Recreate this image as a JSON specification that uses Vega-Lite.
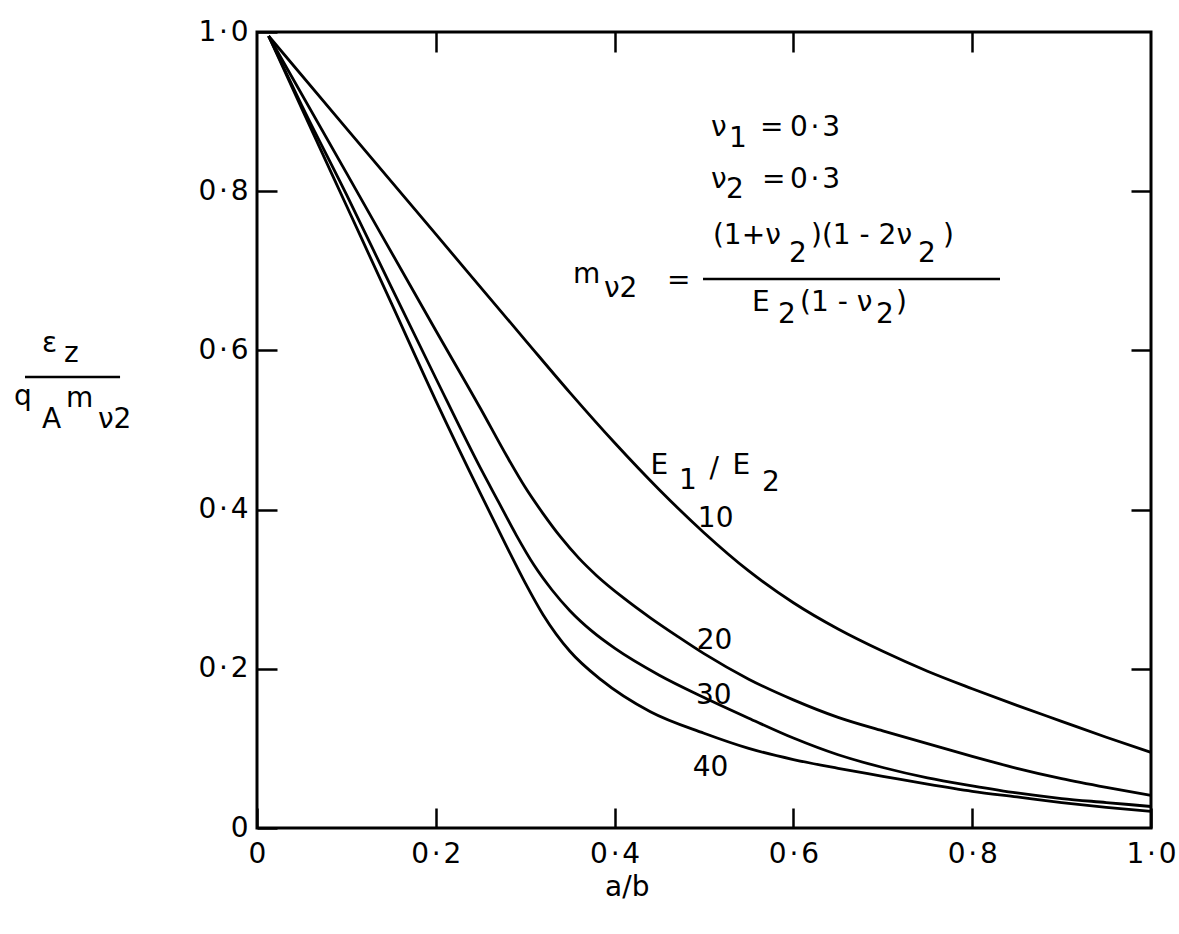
{
  "$schema": "https://vega.github.io/schema/vega-lite/v6.json",
  "width": 894,
  "height": 796,
  "autosize": {"type": "none"},
  "padding": {"left": 257, "top": 32, "right": 28, "bottom": 106},
  "background": "white",
  "config": {
    "view": {"stroke": "black", "strokeWidth": 3},
    "font": "DejaVu Sans",
    "axis": {
      "domain": false,
      "grid": false,
      "tickColor": "black",
      "tickWidth": 2.5,
      "tickSize": -20,
      "labelColor": "black",
      "labelFont": "DejaVu Sans",
      "labelFontSize": 28,
      "labelFlush": false
    },
    "text": {"font": "DejaVu Sans", "fontSize": 28, "color": "black"}
  },
  "datasets": {
    "curves": [
      {"ratio": "10", "ab": 0.013, "eps": 0.995},
      {"ratio": "10", "ab": 0.1, "eps": 0.879},
      {"ratio": "10", "ab": 0.2, "eps": 0.746},
      {"ratio": "10", "ab": 0.3, "eps": 0.613},
      {"ratio": "10", "ab": 0.35, "eps": 0.547},
      {"ratio": "10", "ab": 0.4, "eps": 0.484},
      {"ratio": "10", "ab": 0.45, "eps": 0.425},
      {"ratio": "10", "ab": 0.5, "eps": 0.371},
      {"ratio": "10", "ab": 0.55, "eps": 0.323},
      {"ratio": "10", "ab": 0.6, "eps": 0.283},
      {"ratio": "10", "ab": 0.65, "eps": 0.25},
      {"ratio": "10", "ab": 0.7, "eps": 0.222},
      {"ratio": "10", "ab": 0.75, "eps": 0.197},
      {"ratio": "10", "ab": 0.8, "eps": 0.175},
      {"ratio": "10", "ab": 0.85, "eps": 0.154},
      {"ratio": "10", "ab": 0.9, "eps": 0.134},
      {"ratio": "10", "ab": 0.95, "eps": 0.114},
      {"ratio": "10", "ab": 1.0, "eps": 0.095},
      {"ratio": "20", "ab": 0.013, "eps": 0.995},
      {"ratio": "20", "ab": 0.1, "eps": 0.823},
      {"ratio": "20", "ab": 0.2, "eps": 0.625},
      {"ratio": "20", "ab": 0.25, "eps": 0.527},
      {"ratio": "20", "ab": 0.28, "eps": 0.466},
      {"ratio": "20", "ab": 0.3, "eps": 0.428},
      {"ratio": "20", "ab": 0.32, "eps": 0.395},
      {"ratio": "20", "ab": 0.34, "eps": 0.365},
      {"ratio": "20", "ab": 0.36, "eps": 0.339},
      {"ratio": "20", "ab": 0.38, "eps": 0.317},
      {"ratio": "20", "ab": 0.41, "eps": 0.289},
      {"ratio": "20", "ab": 0.44, "eps": 0.264},
      {"ratio": "20", "ab": 0.47, "eps": 0.241},
      {"ratio": "20", "ab": 0.5, "eps": 0.219},
      {"ratio": "20", "ab": 0.55, "eps": 0.187},
      {"ratio": "20", "ab": 0.6, "eps": 0.161},
      {"ratio": "20", "ab": 0.65, "eps": 0.139},
      {"ratio": "20", "ab": 0.7, "eps": 0.122},
      {"ratio": "20", "ab": 0.75, "eps": 0.106},
      {"ratio": "20", "ab": 0.8, "eps": 0.09},
      {"ratio": "20", "ab": 0.85, "eps": 0.075},
      {"ratio": "20", "ab": 0.9, "eps": 0.062},
      {"ratio": "20", "ab": 0.95, "eps": 0.051},
      {"ratio": "20", "ab": 1.0, "eps": 0.041},
      {"ratio": "30", "ab": 0.013, "eps": 0.995},
      {"ratio": "30", "ab": 0.05, "eps": 0.908},
      {"ratio": "30", "ab": 0.1, "eps": 0.796},
      {"ratio": "30", "ab": 0.15, "eps": 0.68},
      {"ratio": "30", "ab": 0.2, "eps": 0.565},
      {"ratio": "30", "ab": 0.25, "eps": 0.452},
      {"ratio": "30", "ab": 0.27, "eps": 0.41},
      {"ratio": "30", "ab": 0.29, "eps": 0.368},
      {"ratio": "30", "ab": 0.31, "eps": 0.33},
      {"ratio": "30", "ab": 0.33, "eps": 0.299},
      {"ratio": "30", "ab": 0.35, "eps": 0.273},
      {"ratio": "30", "ab": 0.375, "eps": 0.247},
      {"ratio": "30", "ab": 0.4, "eps": 0.226},
      {"ratio": "30", "ab": 0.45, "eps": 0.192},
      {"ratio": "30", "ab": 0.5, "eps": 0.164},
      {"ratio": "30", "ab": 0.55, "eps": 0.138},
      {"ratio": "30", "ab": 0.6, "eps": 0.113},
      {"ratio": "30", "ab": 0.65, "eps": 0.092},
      {"ratio": "30", "ab": 0.7, "eps": 0.076},
      {"ratio": "30", "ab": 0.75, "eps": 0.063},
      {"ratio": "30", "ab": 0.8, "eps": 0.053},
      {"ratio": "30", "ab": 0.85, "eps": 0.044},
      {"ratio": "30", "ab": 0.9, "eps": 0.037},
      {"ratio": "30", "ab": 0.95, "eps": 0.032},
      {"ratio": "30", "ab": 1.0, "eps": 0.027},
      {"ratio": "40", "ab": 0.013, "eps": 0.995},
      {"ratio": "40", "ab": 0.05, "eps": 0.904},
      {"ratio": "40", "ab": 0.1, "eps": 0.782},
      {"ratio": "40", "ab": 0.15, "eps": 0.66},
      {"ratio": "40", "ab": 0.2, "eps": 0.537},
      {"ratio": "40", "ab": 0.25, "eps": 0.42},
      {"ratio": "40", "ab": 0.28, "eps": 0.352},
      {"ratio": "40", "ab": 0.3, "eps": 0.308},
      {"ratio": "40", "ab": 0.32, "eps": 0.268},
      {"ratio": "40", "ab": 0.35, "eps": 0.222},
      {"ratio": "40", "ab": 0.385, "eps": 0.186},
      {"ratio": "40", "ab": 0.44, "eps": 0.146},
      {"ratio": "40", "ab": 0.5, "eps": 0.119},
      {"ratio": "40", "ab": 0.55, "eps": 0.1},
      {"ratio": "40", "ab": 0.6, "eps": 0.086},
      {"ratio": "40", "ab": 0.65, "eps": 0.075},
      {"ratio": "40", "ab": 0.7, "eps": 0.065},
      {"ratio": "40", "ab": 0.75, "eps": 0.055},
      {"ratio": "40", "ab": 0.8, "eps": 0.046},
      {"ratio": "40", "ab": 0.85, "eps": 0.039},
      {"ratio": "40", "ab": 0.9, "eps": 0.032},
      {"ratio": "40", "ab": 0.95, "eps": 0.026},
      {"ratio": "40", "ab": 1.0, "eps": 0.021}
    ],
    "notes": [
      {"x": 0.5078, "y": 0.8693, "t": "ν"},
      {"x": 0.528, "y": 0.8555, "t": "1"},
      {"x": 0.5626, "y": 0.8693, "t": "="},
      {"x": 0.5962, "y": 0.8693, "t": "0\u200a·\u200a3"},
      {"x": 0.5078, "y": 0.804, "t": "ν"},
      {"x": 0.5246, "y": 0.7915, "t": "2"},
      {"x": 0.5648, "y": 0.804, "t": "="},
      {"x": 0.5962, "y": 0.804, "t": "0\u200a·\u200a3"},
      {"x": 0.3535, "y": 0.6847, "t": "m"},
      {"x": 0.3881, "y": 0.6671, "t": "ν2"},
      {"x": 0.4586, "y": 0.6771, "t": "="},
      {"x": 0.51, "y": 0.7337, "t": "(1+ν"},
      {"x": 0.5951, "y": 0.7111, "t": "2"},
      {"x": 0.6197, "y": 0.7337, "t": ")(1 - 2ν"},
      {"x": 0.7394, "y": 0.7111, "t": "2"},
      {"x": 0.7673, "y": 0.7337, "t": ")"},
      {"x": 0.5537, "y": 0.6495, "t": "E"},
      {"x": 0.5828, "y": 0.6344, "t": "2"},
      {"x": 0.6074, "y": 0.6495, "t": "(1 - ν"},
      {"x": 0.6924, "y": 0.6344, "t": "2"},
      {"x": 0.7148, "y": 0.6495, "t": ")"},
      {"x": 0.4402, "y": 0.4443, "t": "E"},
      {"x": 0.4719, "y": 0.4261, "t": "1"},
      {"x": 0.5062, "y": 0.4411, "t": "/"},
      {"x": 0.5319, "y": 0.4441, "t": "E"},
      {"x": 0.5648, "y": 0.4235, "t": "2"},
      {"x": 0.4931, "y": 0.3776, "t": "10"},
      {"x": 0.4918, "y": 0.2252, "t": "20"},
      {"x": 0.4911, "y": 0.1559, "t": "30"},
      {"x": 0.4874, "y": 0.0651, "t": "40"},
      {"x": -0.2405, "y": 0.598, "t": "ε"},
      {"x": -0.2159, "y": 0.5854, "t": "z"},
      {"x": -0.2718, "y": 0.5314, "t": "q"},
      {"x": -0.2405, "y": 0.5025, "t": "A"},
      {"x": -0.2137, "y": 0.5289, "t": "m"},
      {"x": -0.1779, "y": 0.5025, "t": "ν2"},
      {"x": 0.3893, "y": -0.0855, "t": "a/b"}
    ],
    "bars": [
      {"x": 0.4989, "x2": 0.8311, "y": 0.6897},
      {"x": -0.2595, "x2": -0.1532, "y": 0.5666}
    ]
  },
  "resolve": {"axis": {"x": "independent", "y": "independent"}},
  "layer": [
    {
      "data": {"name": "curves"},
      "mark": {"type": "line", "color": "black", "strokeWidth": 2.8, "interpolate": "monotone"},
      "encoding": {
        "x": {"field": "ab", "type": "quantitative", "scale": {"domain": [0, 1], "nice": false},
              "axis": {"orient": "bottom", "title": null, "labelPadding": 32, "values": [0, 0.2, 0.4, 0.6, 0.8, 1],
                       "labelExpr": "datum.value == 0 ? '0' : replace(format(datum.value, '.1f'), '.', '\u200a·\u200a')"}},
        "y": {"field": "eps", "type": "quantitative", "scale": {"domain": [0, 1], "nice": false},
              "axis": {"orient": "left", "title": null, "labelPadding": 29, "values": [0, 0.2, 0.4, 0.6, 0.8, 1],
                       "labelExpr": "datum.value == 0 ? '0' : replace(format(datum.value, '.1f'), '.', '\u200a·\u200a')"}},
        "detail": {"field": "ratio"}
      }
    },
    {
      "data": {"name": "curves"},
      "mark": {"type": "line", "opacity": 0},
      "encoding": {
        "x": {"field": "ab", "type": "quantitative", "axis": {"orient": "top", "title": null, "labels": false, "values": [0.2, 0.4, 0.6, 0.8]}},
        "y": {"field": "eps", "type": "quantitative", "axis": {"orient": "right", "title": null, "labels": false, "values": [0.2, 0.4, 0.6, 0.8]}},
        "detail": {"field": "ratio"}
      }
    },
    {
      "data": {"name": "notes"},
      "mark": {"type": "text", "align": "left", "baseline": "alphabetic"},
      "encoding": {
        "x": {"field": "x", "type": "quantitative", "axis": null},
        "y": {"field": "y", "type": "quantitative", "axis": null},
        "text": {"field": "t"}
      }
    },
    {
      "data": {"name": "bars"},
      "mark": {"type": "rule", "color": "black", "strokeWidth": 2.5},
      "encoding": {
        "x": {"field": "x", "type": "quantitative", "axis": null},
        "x2": {"field": "x2"},
        "y": {"field": "y", "type": "quantitative", "axis": null}
      }
    }
  ]
}
